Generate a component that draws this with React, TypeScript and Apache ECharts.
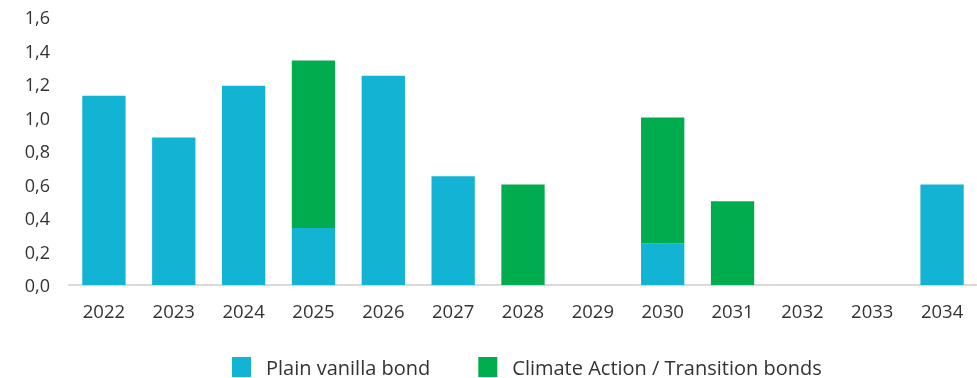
import React, { useEffect, useRef } from "react";
import * as echarts from "echarts";

const years = ["2022","2023","2024","2025","2026","2027","2028","2029","2030","2031","2032","2033","2034"];
const plainVanilla = [1.13, 0.88, 1.19, 0.34, 1.25, 0.65, null, null, 0.25, null, null, null, 0.6];
const climateAction = [null, null, null, 1.0, null, null, 0.6, null, 0.75, 0.5, null, null, null];
const seriesNames = ["Plain vanilla bond", "Climate Action / Transition bonds"];

export default function App() {
  const ref = useRef<HTMLDivElement>(null);
  useEffect(() => {
    const chart = echarts.init(ref.current!, null, { renderer: "svg" });
    const font = "'Open Sans', 'Noto Sans', sans-serif";
    chart.setOption({
      animation: false,
      textStyle: { fontFamily: font },
      grid: { left: 69, right: 0, top: 17, bottom: 93 },
      legend: {
        top: 357,
        left: 232,
        padding: 0,
        itemWidth: 19,
        itemHeight: 20,
        itemGap: 48,
        icon: "rect",
        textStyle: { fontSize: 20, lineHeight: 20, color: "#333", fontFamily: font, padding: [0, 0, 0, 10] },
        data: seriesNames,
      },
      xAxis: {
        type: "category",
        data: years,
        axisLine: { lineStyle: { color: "#d9d9d9", width: 2 } },
        axisTick: { show: false },
        axisLabel: { fontSize: 18.5, color: "#333", margin: 16, fontFamily: font },
      },
      yAxis: {
        type: "value",
        min: 0,
        max: 1.6,
        interval: 0.2,
        splitLine: { show: false },
        axisLine: { show: false },
        axisLabel: {
          fontSize: 18,
          color: "#333",
          margin: 19,
          fontFamily: font,
          formatter: (v: number) => v.toFixed(1).replace(".", ","),
        },
      },
      series: [
        {
          name: seriesNames[0],
          type: "bar",
          stack: "a",
          data: plainVanilla,
          barCategoryGap: "38%",
          itemStyle: { color: "#12B3D3" },
        },
        {
          name: seriesNames[1],
          type: "bar",
          stack: "a",
          data: climateAction,
          barCategoryGap: "38%",
          itemStyle: { color: "#00AC4E" },
        },
      ],
    });
    return () => chart.dispose();
  }, []);
  return <div ref={ref} style={{ position: "fixed", left: 0, top: 0, width: 977, height: 378 }} />;
}
